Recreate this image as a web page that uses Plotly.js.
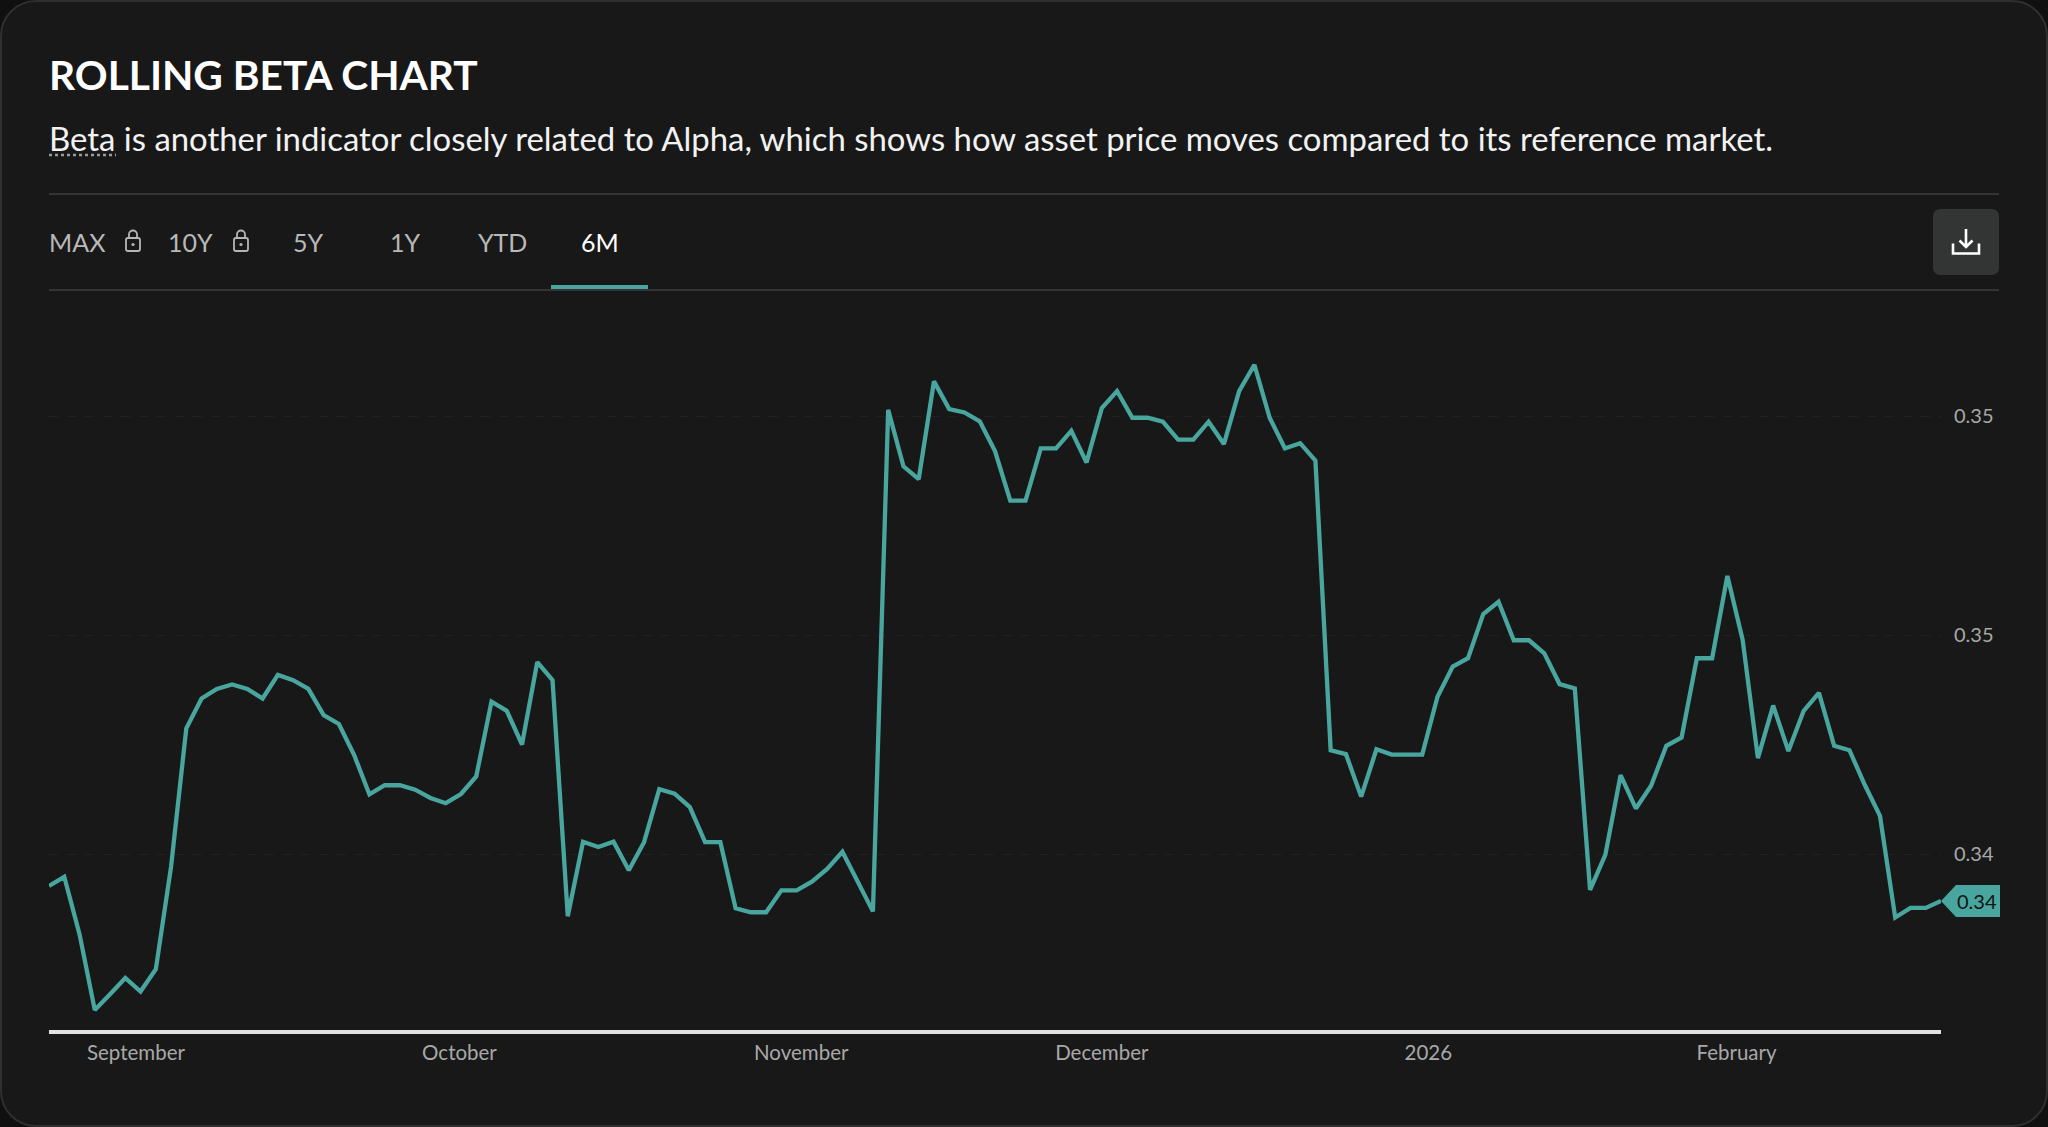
<!DOCTYPE html>
<html>
<head>
<meta charset="utf-8">
<script src="https://cdn.plot.ly/plotly-3.0.1.min.js"></script>
<style>
html,body{margin:0;padding:0;background:#101010;width:2048px;height:1127px;overflow:hidden}
#card{position:absolute;left:0;top:0;width:2044px;height:1123px;background:#181818;border:2px solid #2f2f2f;border-radius:36px;overflow:hidden}
#chart{position:absolute;left:-2px;top:-2px;width:2048px;height:1127px}
.ic{position:absolute;left:0;top:0;pointer-events:none}
</style>
</head>
<body>
<div id="card"><div id="chart"></div></div>
<svg class="ic" width="2048" height="1127" viewBox="0 0 2048 1127">
  <rect x="1933" y="209" width="66" height="66" rx="7" fill="#333534"/>
  <g fill="none" stroke="#ffffff" stroke-width="2.6">
    <path d="M1953 243.5V253.5H1979V243.5"/>
    <path d="M1966 229V247M1959.5 240.5L1966 247L1972.5 240.5"/>
  </g>
  <g fill="none" stroke="#b5b5b5" stroke-width="1.8">
    <rect x="126" y="238" width="14" height="13" rx="2"/><path d="M129 238V234.5a4 4 0 0 1 8 0V238"/>
    <rect x="234" y="238" width="14" height="13" rx="2"/><path d="M237 238V234.5a4 4 0 0 1 8 0V238"/>
  </g>
  <circle cx="133" cy="244.5" r="1.6" fill="#b5b5b5"/><circle cx="241" cy="244.5" r="1.6" fill="#b5b5b5"/>
</svg>
<script>
var tradingDay = [];
for (var n = 0; n < 125; n++) tradingDay.push(n);

var betaValues = [
0.34427,0.34448,0.34317,0.34144,0.34180,0.34217,0.34186,0.34237,0.34471,0.34787,
0.34855,0.34877,0.34887,0.34877,0.34855,0.34909,0.34897,0.34877,0.34817,0.34797,
0.34726,0.34636,0.34657,0.34657,0.34647,0.34628,0.34616,0.34637,0.34677,0.34848,
0.34827,0.34750,0.34938,0.34897,0.34358,0.34528,0.34516,0.34528,0.34463,0.34527,
0.34648,0.34638,0.34607,0.34527,0.34527,0.34376,0.34367,0.34367,0.34417,0.34417,
0.34437,0.34466,0.34505,0.34437,0.34369,0.35514,0.35385,0.35356,0.35579,0.35516,
0.35508,0.35488,0.35420,0.35307,0.35307,0.35426,0.35426,0.35466,0.35394,0.35518,
0.35557,0.35496,0.35496,0.35487,0.35446,0.35446,0.35487,0.35436,0.35557,0.35617,
0.35496,0.35426,0.35438,0.35398,0.34737,0.34728,0.34631,0.34739,0.34727,0.34727,
0.34727,0.34859,0.34928,0.34947,0.35048,0.35076,0.34988,0.34988,0.34958,0.34888,
0.34878,0.34418,0.34498,0.34680,0.34604,0.34656,0.34747,0.34766,0.34947,0.34947,
0.35135,0.34989,0.34719,0.34839,0.34735,0.34827,0.34868,0.34747,0.34737,0.34658,
0.34587,0.34355,0.34377,0.34377,0.34393];

var monthTicks = [5.7, 26.9, 49.3, 69, 90.4, 110.6];
var monthLabels = ["September","October","November","December","2026","February"];
var betaTicks = [0.355, 0.35, 0.345];
var betaLabels = ["0.35","0.35","0.34"];
var lastLabel = "0.34";

var rangeTabs = ["MAX","10Y","5Y","1Y","YTD","6M"];
var rangeTabCenters = [77, 190.5, 308, 405.5, 502, 599.5];

var titleText = "ROLLING BETA CHART";
var descText = "Beta is another indicator closely related to Alpha, which shows how asset price moves compared to its reference market.";

var FONT = "Lato, 'Noto Sans', sans-serif";
var TEAL = "#48a69f";
var W = 2048, H = 1127, L = 49, R = 1941, T = 290, B = 1030;
function fx(p){ return (p - L) / (R - L); }
function fy(p){ return (B - p) / (B - T); }
function rule(x0, x1, y, color, w, dash){
  return {type:"line", xref:"paper", yref:"paper", x0:fx(x0), x1:fx(x1), y0:fy(y), y1:fy(y),
          line:{color:color, width:w, dash:dash||"solid"}};
}

var annotations = [
  {xref:"paper", yref:"paper", x:fx(47), y:fy(139), xanchor:"left", yanchor:"middle", showarrow:false,
   text:descText, font:{family:FONT, size:32.9, color:"#f2f2f2"}, align:"left"}
];
rangeTabs.forEach(function(t, i){
  annotations.push({xref:"paper", yref:"paper", x:fx(rangeTabCenters[i]), y:fy(242), xanchor:"center", yanchor:"middle",
    showarrow:false, text:t, font:{family:FONT, size:25, color: t === "6M" ? "#ffffff" : "#b9b9b9"}});
});
annotations.push({xref:"paper", yref:"y", x:1, y:betaValues[124], xanchor:"left", yanchor:"middle",
  xshift:14, showarrow:false, text:lastLabel, font:{family:FONT, size:20, color:"#0f1413"}});

var shapes = [
  rule(49, 1999, 194, "#343434", 2),
  rule(49, 1999, 290, "#343434", 2),
  rule(551, 648, 287, TEAL, 4),
  rule(49, 116, 155, "#9a9a9a", 2.4, "dot"),
  {type:"path", xref:"paper", yref:"y", xsizemode:"pixel", ysizemode:"pixel",
   xanchor:1, yanchor:betaValues[124],
   path:"M0 0 L15 -16 L59 -16 L59 16 L15 16 Z", fillcolor:TEAL, line:{width:0}, layer:"above"}
];

var trace = {type:"scatter", mode:"lines", x:tradingDay, y:betaValues,
  line:{color:TEAL, width:4.3, shape:"linear"}, hoverinfo:"skip", cliponaxis:false};

var layout = {
  width:W, height:H, autosize:false,
  paper_bgcolor:"rgba(0,0,0,0)", plot_bgcolor:"rgba(0,0,0,0)",
  margin:{l:L, r:W-R, t:T, b:H-B, pad:0},
  showlegend:false,
  title:{text:"<b>"+titleText+"</b>", x:49/W, xref:"container", xanchor:"left", y:1-76/H, yref:"container", yanchor:"middle",
         font:{family:FONT, size:40.7, color:"#ffffff"}},
  xaxis:{range:[0,124], tickmode:"array", tickvals:monthTicks, ticktext:monthLabels, ticks:"", showgrid:false, zeroline:false,
         showline:true, linecolor:"#e2e2e2", linewidth:4, tickfont:{family:FONT, size:20.5, color:"#a8a8a8"}, ticklabelstandoff:1, fixedrange:true},
  yaxis:{range:[0.340982,0.357877], side:"right", tickmode:"array", tickvals:betaTicks, ticktext:betaLabels, ticks:"",
         showgrid:true, gridcolor:"#212121", griddash:"dash", gridwidth:1, zeroline:false, showline:false,
         tickfont:{family:FONT, size:20, color:"#a8a8a8"}, ticklabelstandoff:12, fixedrange:true},
  annotations:annotations, shapes:shapes
};
Plotly.newPlot("chart", [trace], layout, {displayModeBar:false, staticPlot:true});
</script>
</body>
</html>
